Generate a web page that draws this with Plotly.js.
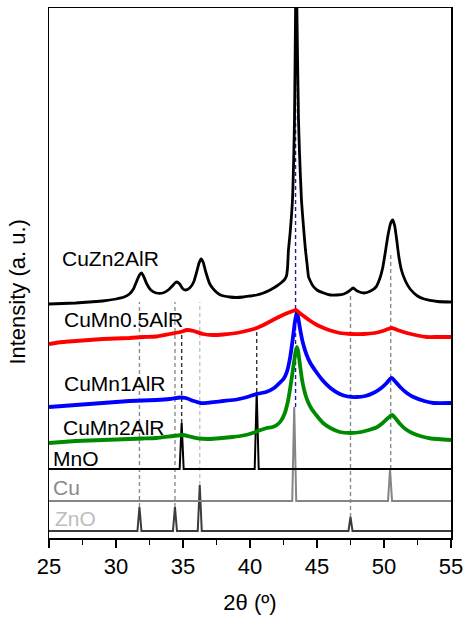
<!DOCTYPE html>
<html>
<head>
<meta charset="utf-8">
<script src="https://cdn.plot.ly/plotly-3.0.1.min.js"></script>
<style>html,body{margin:0;padding:0;background:#fff;}#chart{width:465px;height:617px;}</style>
</head>
<body>
<div id="chart"></div>
<script>
// ---- data (2θ in degrees, intensity in arbitrary stacked units) ----
const cuzn2_x = [25.0,26.0,27.0,28.0,29.0,30.0,30.6,31.0,31.3,31.55,31.75,31.9,32.05,32.3,32.6,33.0,33.5,33.9,34.2,34.4,34.55,34.75,35.0,35.2,35.5,35.8,36.0,36.2,36.35,36.5,36.7,37.0,37.4,37.8,38.5,39.0,39.5,40.0,40.5,41.0,41.5,42.0,42.3,42.55,42.72,42.8,42.87,43.0,43.17,43.25,43.32,43.40,43.45,43.50,43.62,43.7,43.84,44.0,44.14,44.25,44.37,44.5,44.7,45.0,45.5,46.0,46.5,47.0,47.4,47.7,48.0,48.5,49.0,49.4,49.7,49.9,50.1,50.3,50.5,50.65,50.8,50.95,51.1,51.3,51.6,51.95,52.5,53.0,54.0,55.0];
const cuzn2_y = [234,234.5,235,236,237,239,241,244,249,257,263,265,262,254,248,245,245,248,252,255,256,254,249,248,250,256,265,275,279,276,266,254,247,243,241,240.5,241,242,243,245,248,252,255,258,262,270,288,306,338,373,418,528,600,528,418,383,338,310,288,275,261,257,252,248,245,243,243,244,247,250,247,245,247,251,260,270,286,303,315,318,312,298,282,268,257,249,242,239,236.5,236];

const cumn05_x = [25,26,27,28,29,30,31,32,33,34,34.8,35.3,35.8,36.5,37.2,38,39,40,40.5,41,41.7,42.3,42.8,43.2,43.45,43.7,44.0,44.4,45.0,45.5,46.0,46.7,47.5,48.5,49.3,49.9,50.3,50.6,51.0,51.7,52.5,53.2,54,55];
const cumn05_y = [194,196,197,198,199,199.5,200,201,201.5,204,206,208,207,204,203,203.5,205,208,210,213,218,222,225,227,228,225,222,218,213,210,207.5,205,204,204,205,207,209,210,208,205,202.5,201,201,201];

const cumn1_x = [25,26,27,28,29,30,31,32,33,34,34.8,35.2,35.8,36.3,37,38,39,39.8,40.5,41.2,41.8,42.2,42.5,42.75,43.0,43.2,43.35,43.5,43.6,43.75,43.95,44.2,44.5,45.0,45.4,46.0,46.7,47.3,47.95,48.6,49.2,49.7,50.2,50.45,50.6,50.8,51.2,51.7,52.2,53,53.7,55];
const cumn1_y = [131,132,133,134,135,136,137,137.5,138,139,140.5,140,137,135,135.5,137,138.5,141,144,146,150,155,159,166,181,200,216,226,220,208,195,184,175,165,158,150,144,141.5,141,142,145,149,155,159,160,157,151,145,141,137,135,135];

const cumn2_x = [25,26,27,28,29,30,31,32,33,34.25,35.0,35.5,36.2,36.8,37.5,38.7,39.5,40.2,40.8,41.25,41.7,42.0,42.3,42.6,42.85,43.0,43.2,43.4,43.5,43.6,43.75,43.9,44.1,44.3,44.6,45.0,45.45,46.0,46.7,47.5,48.3,49.0,49.5,49.9,50.3,50.6,50.9,51.2,51.6,52.1,52.7,53.5,55];
const cumn2_y = [95,96,97,97.5,98,98.5,99,99.5,100,102,103,101.5,99.5,99,99.5,101,102.5,105,108,110,111,113,117,125,138,150,168,186,191,186,171,157,145,137,129,122,115,110,106,105,106,108.5,111,115,120,123,119,114,109,105,102,99.5,98];

const mno_x = [25,34.75,34.9,35.05,40.35,40.5,40.65,55];
const mno_y = [69,69,115,69,69,146,69,69];

const cu_x = [25,43.15,43.3,43.45,50.3,50.45,50.6,55];
const cu_y = [37,37,131,37,37,69,37,37];

const zno_x = [25,31.6,31.75,31.9,34.25,34.4,34.55,36.1,36.25,36.4,47.35,47.5,47.65,55];
const zno_y = [7,7,31,7,7,31,7,7,53,7,7,21,7,7];

// reference guide lines: position, lower and upper intensity
const guide_pos   = [31.75, 34.4, 34.9, 36.25, 40.5, 43.4, 47.5, 50.5];
const guide_low   = [31, 31, 115, 53, 146, 131, 21, 69];
const guide_high  = [236, 236, 206, 236, 210, 488, 245, 286];
const guide_color = ['#8c8c8c','#8c8c8c','#333333','#c4c4c4','#333333','#1f1f8f','#8c8c8c','#8c8c8c'];

const sample_names = ['CuZn2AlR','CuMn0.5AlR','CuMn1AlR','CuMn2AlR','MnO','Cu','ZnO'];
const label_x = [25.85, 26.0, 26.0, 25.93, 25.15, 25.15, 25.3];
const label_y = [280, 219, 155, 111, 80, 51, 20];
const label_color = ['#000','#000','#000','#000','#000','#8a8a8a','#bdbdbd'];

const x_tickvals = [25,30,35,40,45,50,55];
const x_ticktext = ['25','30','35','40','45','50','55'];

// ---- traces ----
const traces = [];
for (let i = 0; i < guide_pos.length; i++) {
  traces.push({
    x: [guide_pos[i], guide_pos[i]], y: [guide_low[i], guide_high[i]],
    mode: 'lines', line: {color: guide_color[i], width: 1.4, dash: '4px,3px'},
    hoverinfo: 'skip', showlegend: false
  });
}
traces.push({x: zno_x, y: zno_y, mode: 'lines', line: {color: '#3c3c3c', width: 2}, showlegend: false, name: 'ZnO'});
traces.push({x: cu_x, y: cu_y, mode: 'lines', line: {color: '#858585', width: 2}, showlegend: false, name: 'Cu'});
traces.push({x: mno_x, y: mno_y, mode: 'lines', line: {color: '#000', width: 2}, showlegend: false, name: 'MnO'});
const smooth = {shape: 'spline', smoothing: 0.5};
traces.push({x: cumn2_x, y: cumn2_y, mode: 'lines', line: Object.assign({color: '#008a00', width: 3.8}, smooth), showlegend: false, name: 'CuMn2AlR'});
traces.push({x: cumn1_x, y: cumn1_y, mode: 'lines', line: Object.assign({color: '#0000ff', width: 3.8}, smooth), showlegend: false, name: 'CuMn1AlR'});
traces.push({x: cumn05_x, y: cumn05_y, mode: 'lines', line: Object.assign({color: '#ff0000', width: 3.8}, smooth), showlegend: false, name: 'CuMn0.5AlR'});
traces.push({x: cuzn2_x, y: cuzn2_y, mode: 'lines', line: Object.assign({color: '#000', width: 2.8}, smooth), showlegend: false, name: 'CuZn2AlR'});

const FONT = 'Liberation Sans, Arial, sans-serif';
const annotations = sample_names.map((t, i) => ({
  x: label_x[i], y: label_y[i], xref: 'x', yref: 'y', text: t,
  xanchor: 'left', yanchor: 'middle', showarrow: false,
  font: {family: FONT, size: 21, color: label_color[i]}
}));
annotations.push({
  x: -0.077, y: 0.465, xref: 'paper', yref: 'paper', text: 'Intensity (a. u.)',
  textangle: -90, showarrow: false, xanchor: 'center', yanchor: 'middle',
  font: {family: FONT, size: 22, color: '#000'}
});

const layout = {
  width: 465, height: 617,
  margin: {l: 49, r: 14, t: 8, b: 79},
  paper_bgcolor: '#ffffff', plot_bgcolor: '#ffffff',
  showlegend: false,
  xaxis: {
    range: [25, 55], tickvals: x_tickvals, ticktext: x_ticktext,
    ticks: 'outside', ticklen: 8, tickwidth: 1.5, tickcolor: '#000',
    minor: {ticks: 'outside', ticklen: 5, tickwidth: 1.5, dtick: 2.5, tick0: 25, tickcolor: '#000'},
    showline: true, mirror: true, linecolor: '#000', linewidth: 1.5,
    showgrid: false, zeroline: false,
    tickfont: {family: FONT, size: 22, color: '#000'},
    title: {text: '2θ (º)', font: {family: FONT, size: 22, color: '#000'}, standoff: 16}
  },
  yaxis: {
    range: [0, 530], showticklabels: false, ticks: '',
    showline: true, mirror: true, linecolor: '#000', linewidth: 1.5,
    showgrid: false, zeroline: false
  },
  annotations: annotations
};

Plotly.newPlot('chart', traces, layout, {staticPlot: true, displayModeBar: false});
</script>
</body>
</html>
